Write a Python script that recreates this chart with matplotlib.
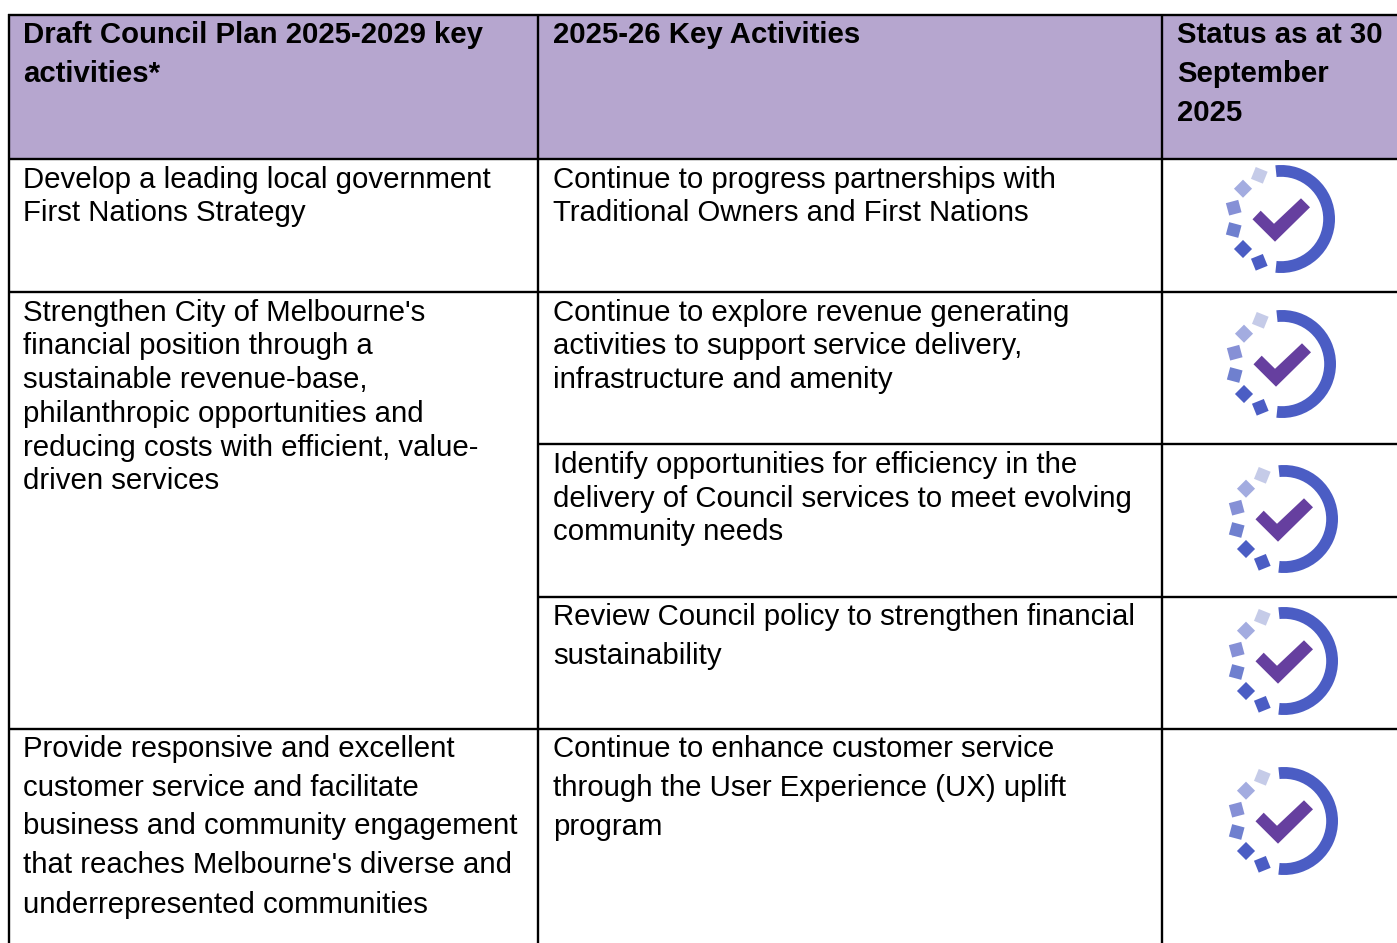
import math
import matplotlib
matplotlib.use("Agg")
import matplotlib.pyplot as plt
from matplotlib.patches import Rectangle, Wedge, Polygon

W, H = 1397, 943
FS = 21.11
plt.rcParams['font.family'] = ['Liberation Sans', 'DejaVu Sans']

header_lines = [
    (23, 43.3, "Draft Council Plan 2025-2029 key"), (23, 82.3, "activities*"),
    (553, 43.3, "2025-26 Key Activities"),
    (1177, 43.3, "Status as at 30"), (1177, 82.3, "September"), (1177, 121.3, "2025"),
]
body_lines = [
    (23, 188.4, "Develop a leading local government"), (23, 221.4, "First Nations Strategy"),
    (553, 188.4, "Continue to progress partnerships with"), (553, 221.4, "Traditional Owners and First Nations"),
    (23, 321.4, "Strengthen City of Melbourne's"), (23, 354.4, "financial position through a"),
    (23, 388.4, "sustainable revenue-base,"), (23, 422.4, "philanthropic opportunities and"),
    (23, 456.4, "reducing costs with efficient, value-"), (23, 489.4, "driven services"),
    (553, 321.4, "Continue to explore revenue generating"), (553, 354.4, "activities to support service delivery,"),
    (553, 388.4, "infrastructure and amenity"),
    (553, 473.4, "Identify opportunities for efficiency in the"), (553, 507.4, "delivery of Council services to meet evolving"),
    (553, 540.4, "community needs"),
    (553, 625.4, "Review Council policy to strengthen financial"), (553, 664.4, "sustainability"),
    (23, 757.4, "Provide responsive and excellent"), (23, 796.4, "customer service and facilitate"),
    (23, 834.4, "business and community engagement"), (23, 873.4, "that reaches Melbourne's diverse and"),
    (23, 913.4, "underrepresented communities"),
    (553, 757.4, "Continue to enhance customer service"), (553, 796.4, "through the User Experience (UX) uplift"),
    (553, 835.4, "program"),
]
icon_centres = [(1281, 219), (1282, 364), (1284, 519), (1284, 661), (1284, 821)]
square_offsets = [(-21.7, -43.7), (-38, -30.3), (-47.3, -11.3), (-47.3, 11), (-38, 30), (-21.7, 43.3)]
square_colours = ["#C5CBE8", "#A3ACE0", "#8690D6", "#6F80CF", "#4B5DC4", "#4B5DC4"]
square_angles = [22, 45, 75, 105, 135, 158]
check_shape = [(-28.5, 0.3), (-20.3, -8.3), (-7, 4.8), (20, -20.7), (29, -11.7), (-6, 22.7)]

fig = plt.figure(figsize=(W / 100, H / 100), dpi=100, facecolor="white")
ax = fig.add_axes([0, 0, 1, 1])
ax.set_xlim(0, W)
ax.set_ylim(H, 0)
ax.axis("off")

ax.add_patch(Rectangle((9, 15), W - 9, 143.5, fc="#B6A6CF", ec="none", zorder=1))

LW = 1.7
def hl(y, x0, x1):
    ax.plot([x0, x1], [y, y], color="black", lw=LW, solid_capstyle="butt", zorder=2)
def vl(x, y0, y1):
    ax.plot([x, x], [y0, y1], color="black", lw=LW, solid_capstyle="butt", zorder=2)

for y in (15, 158.5, 292, 729):
    hl(y, 8, W)
for y in (444, 597):
    hl(y, 538, W)
for x in (9, 538, 1162):
    vl(x, 14, H)

for x, y, s in header_lines:
    ax.text(x, y, s, fontsize=FS, fontweight="bold", va="baseline", ha="left", color="black", zorder=3)
for x, y, s in body_lines:
    ax.text(x, y, s, fontsize=FS, va="baseline", ha="left", color="black", zorder=3)

for cx, cy in icon_centres:
    ax.add_patch(Wedge((cx, cy), 54, -96, 96, width=11.8, fc="#4B5DC4", ec="none", zorder=3))
    for (dx, dy), c, a in zip(square_offsets, square_colours, square_angles):
        r = 6.4
        t = math.radians(a)
        u = (math.cos(t) * r, math.sin(t) * r)
        v = (-math.sin(t) * r, math.cos(t) * r)
        x0, y0 = cx + dx, cy + dy
        pts = [(x0 + sx * u[0] + sy * v[0], y0 + sx * u[1] + sy * v[1]) for sx, sy in ((-1, -1), (1, -1), (1, 1), (-1, 1))]
        ax.add_patch(Polygon(pts, closed=True, fc=c, ec="none", zorder=3))
    ax.add_patch(Polygon([(cx + a, cy + b) for a, b in check_shape], closed=True, fc="#663F9F", ec="none", zorder=4))

fig.savefig("out.png", dpi=100, facecolor="white")
